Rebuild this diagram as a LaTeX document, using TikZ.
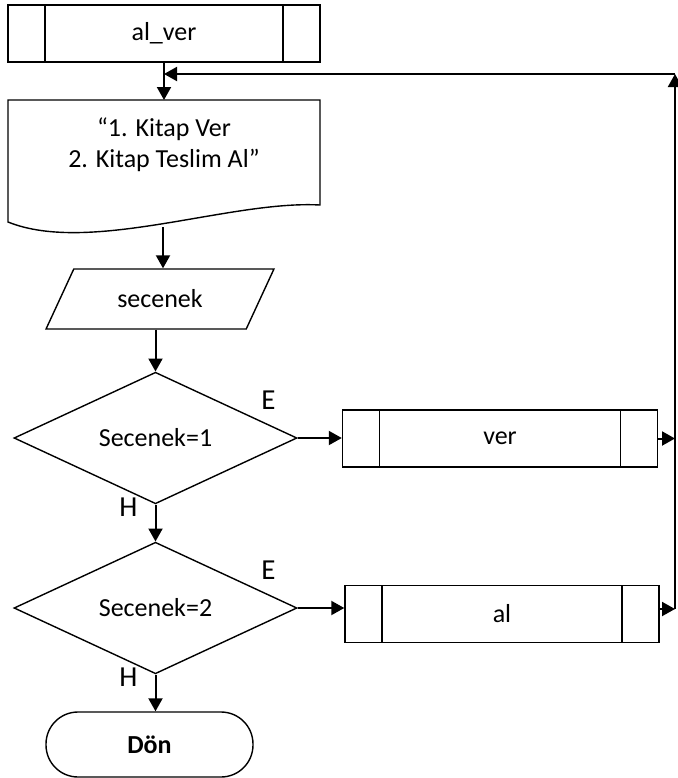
\documentclass[tikz,border=0pt]{standalone}
\usepackage{fontspec}
\setmainfont{Carlito}
\usetikzlibrary{shapes.geometric,arrows.meta}

\begin{document}
\begin{tikzpicture}[x=0.5pt,y=-0.5pt,line width=0.7pt,font=\fontsize{13}{15.5}\selectfont]
  \tikzset{proc box/.style={draw,rectangle,minimum width=#1,minimum height=28.5pt,inner sep=0pt,
      path picture={\draw ([xshift=18.5pt]path picture bounding box.north west) -- ([xshift=18.5pt]path picture bounding box.south west);
                    \draw ([xshift=-18.5pt]path picture bounding box.north east) -- ([xshift=-18.5pt]path picture bounding box.south east);}}}
  \tikzset{io box/.style={draw,trapezium,trapezium left angle=53,trapezium right angle=127,trapezium stretches=true,minimum width=114pt,minimum height=30pt,inner sep=0pt}}
  \tikzset{dec box/.style={draw,diamond,minimum width=141.5pt,minimum height=63pt,inner sep=0pt}}
  \tikzset{end box/.style={draw,rectangle,rounded corners=16pt,minimum width=103.5pt,minimum height=32.5pt,inner sep=0pt,font=\fontsize{13}{15.5}\selectfont\bfseries}}
  \tikzset{branch/.style={inner sep=0pt,font=\fontsize{14.5}{17}\selectfont}}
  \tikzset{flow/.style={-{Triangle[length=6.5pt,width=7pt]},line width=1pt}}

  \useasboundingbox (0,0) rectangle (678,778);

  \node [proc box=156pt] (alver) at (164,33.5) {al\_ver}; % start
  \draw (8,100) -- (320,100) -- (320,205) .. controls (230,200) and (90,255) .. (8,222) -- cycle; % document
  \node [align=center] (msg) at (164,145) {“1. Kitap Ver\\2. Kitap Teslim Al”};
  \coordinate (msgtop) at (164,100);
  \coordinate (msgbot) at (163,227);
  \node [io box] (sec) at (160,299) {secenek};
  \node [dec box] (dec1) at (155.5,438) {Secenek=1};
  \node [dec box] (dec2) at (155.5,608) {Secenek=2};
  \node [proc box=157.5pt] (ver) at (500,438.5) {ver};
  \node [proc box=157pt] (al) at (502,614) {al};
  \node [end box] (don) at (149.5,744.5) {Dön};

  \node [branch] (e1) at (268.5,400.5) {E};
  \node [branch] (h1) at (128.5,507.5) {H};
  \node [branch] (e2) at (268.5,570.5) {E};
  \node [branch] (h2) at (128.5,677.5) {H};

  \coordinate (r1) at (675,438.5);
  \coordinate (r2) at (675,609);
  \coordinate (rtop) at (675,74);

  \draw [flow] (alver.south) -- (msgtop);
  \draw [flow] (msgbot) -- (msgbot |- sec.north);
  \draw [flow] (dec1.north |- sec.south) -- (dec1.north);
  \draw [flow] (dec1.south) -- (dec2.north);
  \draw [flow] (dec2.south) -- (dec2.south |- don.north);
  \draw [flow] (dec1.east) -- (ver.west |- dec1.east);
  \draw [flow] (dec2.east) -- (al.west |- dec2.east);
  \draw [flow] (ver.east) -- (r1);
  \draw [flow] (al.east |- r2) -- (r2);
  \draw [flow] (r2) -- (rtop);
  \draw [flow] (rtop) -- (alver.south |- rtop);
\end{tikzpicture}
\end{document}
